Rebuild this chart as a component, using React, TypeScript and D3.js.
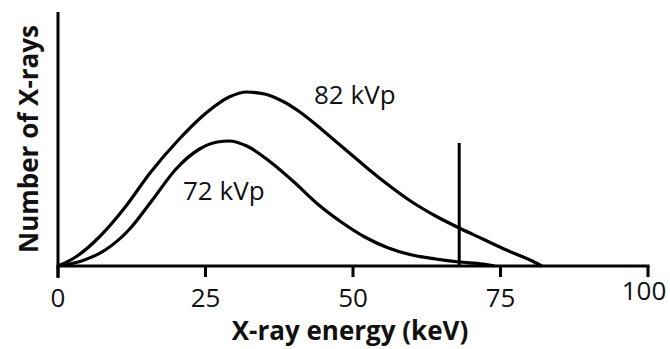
import * as d3 from "d3";

// ── Data ─────────────────────────────────────────────────────────────────────

const xTicks = [0, 25, 50, 75, 100];

const energy82 = [0, 3, 7, 11.4, 15.6, 20.4, 25.3, 29, 32, 35, 38, 41, 44, 47, 50, 53, 56, 60, 64, 68, 72, 76, 80, 82];
const counts82 = [0, 4.5, 14.5, 29.5, 46.5, 63, 77, 84.5, 87, 86, 82.5, 77, 70, 62.5, 55, 47.5, 40.5, 32, 25, 19, 13.5, 8, 3, 0];

const energy72 = [0, 4, 8, 12, 16, 20, 24, 27, 29, 32, 36, 40, 44, 48, 52, 56, 60, 64, 68, 72, 74];
const counts72 = [0, 2.5, 8, 18, 33, 48.5, 58.5, 62, 62.5, 60, 52, 42, 31, 22, 14.5, 9, 5.5, 3.5, 2, 1, 0];

// tungsten K characteristic line
const spikeEnergy = [68];
const spikeCounts = [61.5];

const seriesLabels = ["82 kVp", "72 kVp"];

// ── Layout ───────────────────────────────────────────────────────────────────

const W = 670;
const H = 349;
const FONT = "'Open Sans', 'DejaVu Sans', sans-serif";

const x = d3.scaleLinear().domain([0, 100]).range([58, 648]);
const y = d3.scaleLinear().domain([0, 127]).range([266, 12]);

const line = d3
  .line<[number, number]>()
  .x((d) => x(d[0]))
  .y((d) => y(d[1]))
  .curve(d3.curveMonotoneX);

const zip = (a: number[], b: number[]) => a.map((v, i) => [v, b[i]] as [number, number]);

export default function App() {
  const y0 = y(0);
  return (
    <svg
      width={W}
      height={H}
      style={{ position: "absolute", left: 0, top: 0, background: "#fff" }}
      fontFamily={FONT}
    >
      {/* curves */}
      <path d={line(zip(energy82, counts82)) ?? ""} fill="none" stroke="#000" strokeWidth={3.2} />
      <path d={line(zip(energy72, counts72)) ?? ""} fill="none" stroke="#000" strokeWidth={3.2} />

      {/* characteristic spike */}
      {spikeEnergy.map((e, i) => (
        <line key={i} x1={x(e)} x2={x(e)} y1={y0} y2={y(spikeCounts[i])} stroke="#000" strokeWidth={3} />
      ))}

      {/* y axis */}
      <line x1={x(0)} x2={x(0)} y1={y(127)} y2={y0 + 12} stroke="#000" strokeWidth={3} />

      {/* x axis */}
      <line x1={x(0)} x2={x(100)} y1={y0} y2={y0} stroke="#000" strokeWidth={3} strokeLinecap="square" />
      {xTicks.map((t, i) => (
        <g key={t} transform={`translate(${x(t)},0)`}>
          <line y1={y0} y2={y0 + 11} stroke="#000" strokeWidth={3} />
          <text
            y={i === xTicks.length - 1 ? 300 : 307}
            dx={i === xTicks.length - 1 ? -4 : 0}
            textAnchor="middle"
            fontSize={26}
            fill="#111"
          >
            {t}
          </text>
        </g>
      ))}

      {/* axis titles */}
      <text x={350} y={340} textAnchor="middle" fontSize={26} fontWeight="bold" fill="#111">
        X-ray energy (keV)
      </text>
      <text
        transform="translate(38,139) rotate(-90)"
        textAnchor="middle"
        fontSize={26}
        fontWeight="bold"
        fill="#111"
      >
        Number of X-rays
      </text>

      {/* series labels */}
      <text x={314} y={104} fontSize={26} fill="#111">{seriesLabels[0]}</text>
      <text x={183} y={200} fontSize={26} fill="#111">{seriesLabels[1]}</text>
    </svg>
  );
}
